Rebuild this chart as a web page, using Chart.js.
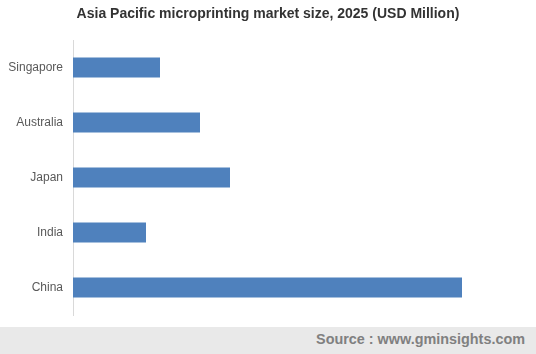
<!DOCTYPE html>
<html>
<head>
<meta charset="utf-8">
<script src="https://cdn.jsdelivr.net/npm/chart.js@4"></script>
<style>
    html, body { margin: 0; padding: 0; background: #fff; }
    #wrap { position: relative; width: 536px; height: 327px; }
    #footer {
        width: 536px; height: 27px; background: #e9e9e9;
        font: bold 14.4px "Liberation Sans", Arial, sans-serif; color: #808080;
        text-align: right; box-sizing: border-box; padding-right: 11px; line-height: 25px;
    }
</style>
</head>
<body>
<div id="wrap"><canvas id="marketChart"></canvas></div>
<div id="footer">Source : www.gminsights.com</div>
<script>
// values (relative bar lengths)
var countries = ['Singapore', 'Australia', 'Japan', 'India', 'China'];
var marketSize = [8.7, 12.7, 15.7, 7.3, 38.9];

document.addEventListener("DOMContentLoaded", function() {
    var ctx = document.getElementById('marketChart').getContext('2d');
    new Chart(ctx, {
        type: 'bar',
        data: {
            labels: countries,
            datasets: [{
                label: 'Market size (USD Million)',
                data: marketSize,
                backgroundColor: '#4f81bd',
                borderWidth: 0,
                barPercentage: 0.364,
                categoryPercentage: 1
            }]
        },
        options: {
            indexAxis: 'y',
            responsive: true,
            maintainAspectRatio: false,
            animation: false,
            layout: { padding: { left: 0, right: 0, top: 0, bottom: 12 } },
            scales: {
                x: { display: false, min: 0, max: 46.3 },
                y: {
                    // grid hidden, tickLength only used as label gap
                    grid: { display: false, drawTicks: true, tickLength: 10 },
                    border: { display: true, color: '#d9d9d9', width: 1 },
                    ticks: {
                        padding: 0,
                        color: '#595959',
                        font: { family: '"Liberation Sans", Arial, sans-serif', size: 12 }
                    },
                    afterFit: function(scale) { scale.width = 73; }
                }
            },
            plugins: {
                legend: { display: false },
                title: {
                    display: true,
                    text: 'Asia Pacific microprinting market size, 2025 (USD Million)',
                    color: '#333333',
                    font: { family: '"Liberation Sans", Arial, sans-serif', size: 14, weight: 'bold' },
                    padding: { top: 6, bottom: 17.2 }
                }
            }
        }
    });
});
</script>
</body>
</html>
